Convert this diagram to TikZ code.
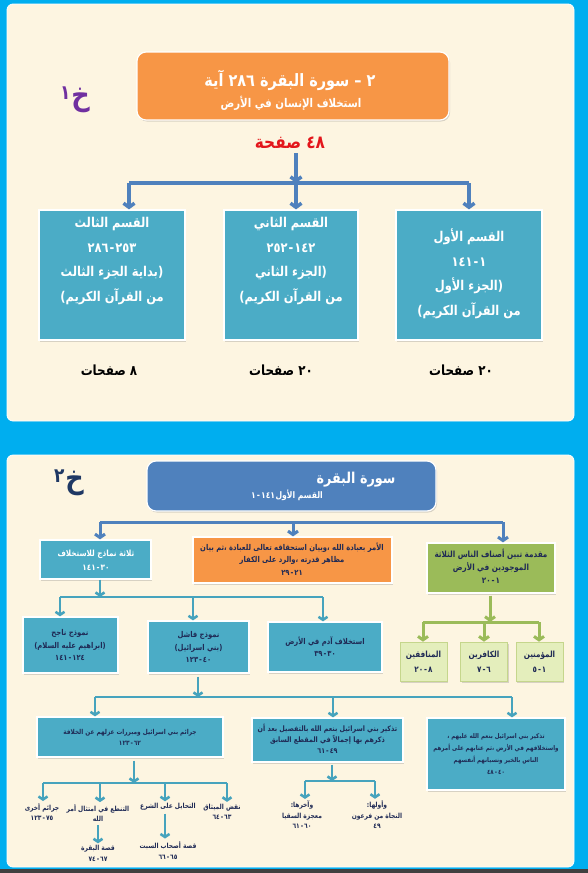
\documentclass[tikz,border=0pt]{standalone}
\usepackage{fontspec}
\usetikzlibrary{arrows.meta,shadows}
\TeXXeTstate=1
\newfontfamily\arf[Script=Arabic,FakeStretch=0.85]{DejaVu Sans}
\newcommand\AR[1]{\beginR#1\endR}
\newcommand\rng[2]{#1\kern1pt-\kern1pt#2}
\definecolor{cyanbg}{HTML}{00AEEF}
\definecolor{cream}{HTML}{FDF5E1}
\definecolor{boxblue}{HTML}{4BACC6}
\definecolor{arrowblue}{HTML}{4F81BD}
\definecolor{orangebox}{HTML}{F79646}
\definecolor{greenbox}{HTML}{9BBB59}
\definecolor{lightgreen}{HTML}{E4EEBC}
\definecolor{lgborder}{HTML}{C5D68C}
\definecolor{tealarrow}{HTML}{46A3BD}
\definecolor{navytext}{HTML}{1F2A55}
\definecolor{kpurple}{HTML}{7030A0}
\definecolor{knavy}{HTML}{1F3864}
\definecolor{redtext}{HTML}{E3161B}
\tikzset{
  shad/.style={drop shadow={opacity=0.3,shadow xshift=1pt,shadow yshift=-1.5pt}},
  boxbase/.style={draw=white, line width=1.2pt, inner sep=0pt, shad},
  tb/.style={boxbase, fill=boxblue},
  ob/.style={boxbase, fill=orangebox},
  gb/.style={boxbase, fill=greenbox},
  lgb/.style={fill=lightgreen, draw=lgborder, line width=0.6pt, inner sep=0pt, shad},
  txt/.style={align=center, inner sep=0pt},
  bigw/.style={txt, text=white, font=\arf\bfseries\fontsize{13.5}{24.5}\selectfont},
  lab/.style={txt, text=black, font=\arf\bfseries\fontsize{14}{16}\selectfont},
  sm/.style={txt, text=navytext, font=\arf\bfseries\fontsize{8}{12.5}\selectfont},
  xs/.style={txt, text=navytext, font=\arf\bfseries\fontsize{7}{10.5}\selectfont},
  arwA/.style={draw=arrowblue, line width=3.5pt, -{Straight Barb[length=4pt,width=11pt]}},
  barA/.style={draw=arrowblue, line width=3.5pt},
  arwB/.style={draw=arrowblue, line width=3pt, -{Straight Barb[length=3.5pt,width=10pt]}},
  barB/.style={draw=arrowblue, line width=3pt},
  arwT/.style={draw=tealarrow, line width=2.6pt, -{Straight Barb[length=3pt,width=9pt]}},
  barT/.style={draw=tealarrow, line width=2.6pt},
  arwG/.style={draw=greenbox, line width=3pt, -{Straight Barb[length=3.5pt,width=10pt]}},
  barG/.style={draw=greenbox, line width=3pt},
}
\begin{document}
\begin{tikzpicture}[x=1pt,y=-1pt]
\useasboundingbox (0,0) rectangle (588,873);
% backgrounds
\fill[cyanbg] (0,0) rectangle (588,873);
\draw[fill=cream, draw=white, line width=0.8pt, rounded corners=6pt] (7,4) rectangle (574,421);
\draw[fill=cream, draw=white, line width=0.8pt, rounded corners=6pt] (7,455) rectangle (574,867);
\fill[black!75] (0,869) rectangle (588,873);

% ================= panel 1 =================
\node[txt, text=kpurple, font=\arf\bfseries\fontsize{30}{30}\selectfont] (k1) at (75,100) {\AR{خ\kern1pt\raisebox{6pt}{\fontsize{20}{20}\selectfont ١}}};
\node[ob, rounded corners=9pt, minimum width=312pt, minimum height=68pt] (t1) at (293,86) {};
\node[txt, text=white, font=\arf\bfseries\fontsize{17}{20}\selectfont] (t1a) at (290,80) {\AR{٢ – سورة البقرة ٢٨٦ آية}};
\node[txt, text=white, font=\arf\bfseries\fontsize{12}{14}\selectfont] (t1b) at (291,103) {\AR{استخلاف الإنسان في الأرض}};
\node[txt, text=redtext, font=\arf\bfseries\fontsize{18}{20}\selectfont] (pg) at (290,143) {\AR{٤٨ صفحة}};

\node[tb, minimum width=146pt, minimum height=130pt] (b3) at (112,275) {};
\node[tb, minimum width=134pt, minimum height=130pt] (b2) at (291,275) {};
\node[tb, minimum width=146pt, minimum height=130pt] (b1) at (469,275) {};
\node[bigw] (b3t) at (112,261) {\AR{القسم الثالث}\\\AR{\rng{٢٥٣}{٢٨٦}}\\\AR{(بداية الجزء الثالث}\\\AR{من القرآن الكريم)}};
\node[bigw] (b2t) at (291,261) {\AR{القسم الثاني}\\\AR{\rng{١٤٢}{٢٥٢}}\\\AR{(الجزء الثاني}\\\AR{من القرآن الكريم)}};
\node[bigw] (b1t) at (469,274) {\AR{القسم الأول}\\\AR{\rng{١}{١٤١}}\\\AR{(الجزء الأول}\\\AR{من القرآن الكريم)}};

\coordinate (p1L) at (129,183);
\coordinate (p1M) at (296,183);
\coordinate (p1R) at (469,183);
\draw[barA] (p1L) -- (p1R);
\draw[arwA] ([yshift=-4pt]pg.south -| p1M) -- (p1M);
\draw[arwA] (p1L) -- (p1L |- b3.north);
\draw[arwA] (p1M) -- (p1M |- b2.north);
\draw[arwA] (p1R) -- (p1R |- b1.north);

\node[lab] (l3) at (109,370) {\AR{٨ صفحات}};
\node[lab] (l2) at (281,370) {\AR{٢٠ صفحات}};
\node[lab] (l1) at (461,370) {\AR{٢٠ صفحات}};

% ================= panel 2 =================
\node[txt, text=knavy, font=\arf\bfseries\fontsize{30}{30}\selectfont] (k2) at (69,483) {\AR{خ\kern1pt\raisebox{6pt}{\fontsize{20}{20}\selectfont ٢}}};
\node[boxbase, fill=arrowblue, rounded corners=9pt, minimum width=289pt, minimum height=50pt] (t2) at (291.5,486) {};
\node[txt, text=white, font=\arf\bfseries\fontsize{15}{18}\selectfont] (t2a) at (356,480) {\AR{سورة البقرة}};
\node[txt, text=white, font=\arf\bfseries\fontsize{9}{11}\selectfont] (t2b) at (287,495) {\AR{القسم الأول\kern0.5pt\rng{١٤١}{١}}};

% row 1
\node[tb, minimum width=111pt, minimum height=39pt] (r1a) at (95.5,559.5) {};
\node[ob, minimum width=199pt, minimum height=46pt] (r1b) at (292.5,560) {};
\node[gb, minimum width=128pt, minimum height=50pt] (r1c) at (491,568) {};
\node[sm, text=white, font=\arf\bfseries\fontsize{8.5}{14}\selectfont] (r1at) at (96,560) {\AR{ثلاثة نماذج للاستخلاف}\\\AR{\rng{٣٠}{١٤١}}};
\node[sm] (r1bt) at (292,559) {\AR{الأمر بعبادة الله ،وبيان استحقاقه تعالى للعبادة ،ثم بيان}\\\AR{مظاهر قدرته ،والرد على الكفار}\\\AR{\rng{٢١}{٢٩}}};
\node[sm, font=\arf\bfseries\fontsize{8.5}{13}\selectfont] (r1ct) at (491,566) {\AR{مقدمة تبين أصناف الناس الثلاثة}\\\AR{الموجودين في الأرض}\\\AR{\rng{١}{٢٠}}};

\coordinate (q1L) at (100,522);
\coordinate (q1M) at (293,522);
\coordinate (q1R) at (503,522);
\draw[barB] (q1L) -- (q1R);
\draw[arwB] (q1L) -- (q1L |- r1a.north);
\draw[arwB] (q1M) -- (q1M |- r1b.north);
\draw[arwB] (q1R) -- (q1R |- r1c.north);

% green tree
\coordinate (gJ) at (490,622);
\coordinate (gL) at (423,622);
\coordinate (gM) at (484,622);
\coordinate (gR) at (539,622);
\draw[barG] (gL) -- (gR);
\draw[arwG] ([yshift=-2pt]gJ |- r1c.south) -- (gJ);
\node[lgb, minimum width=47pt, minimum height=39pt] (g3) at (423.5,661.5) {};
\node[lgb, minimum width=47pt, minimum height=39pt] (g2) at (484,661.5) {};
\node[lgb, minimum width=47pt, minimum height=39pt] (g1) at (539.5,661.5) {};
\node[sm, font=\arf\bfseries\fontsize{8.5}{15}\selectfont] (g3t) at (423.5,662) {\AR{المنافقين}\\\AR{\rng{٨}{٢٠}}};
\node[sm, font=\arf\bfseries\fontsize{8.5}{15}\selectfont] (g2t) at (484,662) {\AR{الكافرين}\\\AR{\rng{٦}{٧}}};
\node[sm, font=\arf\bfseries\fontsize{8.5}{15}\selectfont] (g1t) at (539.5,662) {\AR{المؤمنين}\\\AR{\rng{١}{٥}}};
\draw[arwG] (gL) -- (gL |- g3.north);
\draw[arwG] (gM) -- (gM |- g2.north);
\draw[arwG] (gR) -- (gR |- g1.north);

% row 2 (teal tree)
\coordinate (s1J) at (100,597);
\coordinate (s1L) at (60,597);
\coordinate (s1M) at (193,597);
\coordinate (s1R) at (323,597);
\node[tb, minimum width=95pt, minimum height=56pt] (r2a) at (70.5,645) {};
\node[tb, minimum width=101pt, minimum height=52pt] (r2b) at (198.5,647) {};
\node[tb, minimum width=114pt, minimum height=50pt] (r2c) at (325,647) {};
\node[sm] (r2at) at (70,645) {\AR{نموذج ناجح}\\\AR{(ابراهيم عليه السلام)}\\\AR{\rng{١٢٤}{١٤١}}};
\node[sm] (r2bt) at (198.5,647) {\AR{نموذج فاشل}\\\AR{(بني اسرائيل)}\\\AR{\rng{٤٠}{١٢٣}}};
\node[sm] (r2ct) at (325,646.5) {\AR{استخلاف آدم في الأرض}\\\AR{\rng{٣٠}{٣٩}}};
\draw[barT] (s1L) -- (s1R);
\draw[arwT] (s1J |- r1a.south) -- (s1J);
\draw[arwT] (s1L) -- (s1L |- r2a.north);
\draw[arwT] (s1M) -- (s1M |- r2b.north);
\draw[arwT] (s1R) -- (s1R |- r2c.north);

% row 3
\coordinate (s2J) at (198,697);
\coordinate (s2L) at (95,697);
\coordinate (s2M) at (333,697);
\coordinate (s2R) at (512,697);
\node[tb, minimum width=186pt, minimum height=40pt] (r3a) at (130,737) {};
\node[tb, minimum width=151pt, minimum height=44pt] (r3b) at (327.5,740) {};
\node[tb, minimum width=138pt, minimum height=72pt] (r3c) at (496,754) {};
\node[xs, font=\arf\bfseries\fontsize{6.8}{11}\selectfont] (r3at) at (130,737.5) {\AR{جرائم بني اسرائيل ومبررات عزلهم عن الخلافة}\\\AR{\rng{٦٢}{١٢٣}}};
\node[xs, font=\arf\bfseries\fontsize{7.5}{11}\selectfont] (r3bt) at (327.5,739) {\AR{تذكير بني اسرائيل بنعم الله بالتفصيل بعد أن}\\\AR{ذكرهم بها إجمالاً في المقطع السابق}\\\AR{\rng{٤٩}{٦١}}};
\node[xs, font=\arf\bfseries\fontsize{6.5}{12}\selectfont] (r3ct) at (496,754) {\AR{تذكير بني اسرائيل بنعم الله عليهم ،}\\\AR{واستخلافهم في الأرض ،ثم عتابهم على أمرهم}\\\AR{الناس بالخير ونسيانهم أنفسهم}\\\AR{\rng{٤٠}{٤٨}}};
\draw[barT] (s2L) -- (s2R);
\draw[arwT] ([yshift=-3pt]s2J |- r2b.south) -- (s2J);
\draw[arwT] (s2L) -- (s2L |- r3a.north);
\draw[arwT] (s2M) -- (s2M |- r3b.north);
\draw[arwT] (s2R) -- (s2R |- r3c.north);

% row 4 under r3a
\coordinate (s3J) at (134,783);
\coordinate (s3A) at (43,783);
\coordinate (s3B) at (100,783);
\coordinate (s3C) at (165,783);
\coordinate (s3D) at (227,783);
\node[xs] (c1) at (42,812) {\AR{جرائم أخرى}\\\AR{\rng{٧٥}{١٢٣}}};
\node[xs] (c2) at (98,813) {\AR{التنطع في امتثال أمر}\\\AR{الله}};
\node[xs] (c2b) at (98,853.5) {\AR{قصة البقرة}\\\AR{\rng{٦٧}{٧٤}}};
\node[xs] (c3) at (168,807) {\AR{التحايل على الشرع}};
\node[xs] (c3b) at (168,850.5) {\AR{قصة أصحاب السبت}\\\AR{\rng{٦٥}{٦٦}}};
\node[xs] (c4) at (222,812) {\AR{نقض الميثاق}\\\AR{\rng{٦٣}{٦٤}}};
\draw[barT] (s3A) -- (s3D);
\draw[arwT] ([yshift=-3pt]s3J |- r3a.south) -- (s3J);
\draw[arwT] (s3A) -- ([yshift=2pt]s3A |- c1.north);
\draw[arwT] (s3B) -- ([yshift=2pt]s3B |- c2.north);
\draw[arwT] (s3C) -- ([yshift=2pt]s3C |- c3.north);
\draw[arwT] (s3D) -- ([yshift=2pt]s3D |- c4.north);
\draw[arwT] ([yshift=-3pt]c2.south) -- ([yshift=2pt]c2b.north);
\draw[arwT] ([yshift=-3pt]c3.south -| s3C) -- ([yshift=3pt]c3b.north -| s3C);

% row 4 under r3b
\coordinate (s4J) at (332,781);
\coordinate (s4L) at (305,781);
\coordinate (s4R) at (375,781);
\node[xs] (d1) at (302,815) {\AR{وآخرها:}\\\AR{معجزة السقيا}\\\AR{\rng{٦٠}{٦١}}};
\node[xs] (d2) at (377,815) {\AR{وأولها:}\\\AR{النجاة من فرعون}\\\AR{٤٩}};
\draw[barT] (s4L) -- (s4R);
\draw[arwT] ([yshift=-2pt]s4J |- r3b.south) -- (s4J);
\draw[arwT] (s4L) -- ([yshift=2pt]s4L |- d1.north);
\draw[arwT] (s4R) -- ([yshift=2pt]s4R |- d2.north);
\end{tikzpicture}
\end{document}
